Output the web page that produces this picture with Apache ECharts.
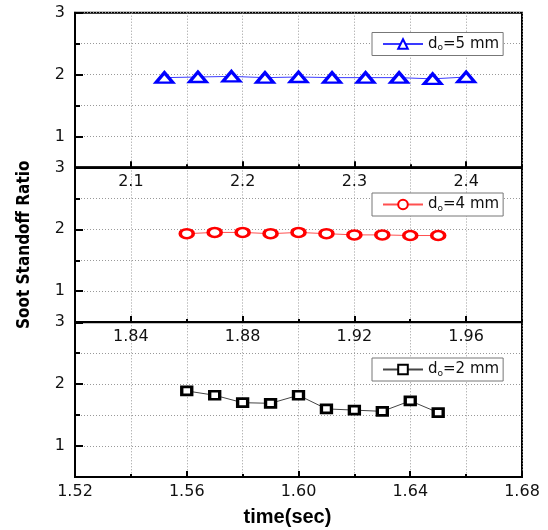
<!DOCTYPE html>
<html>
<head>
<meta charset="utf-8">
<script src="https://cdn.jsdelivr.net/npm/echarts@6/dist/echarts.min.js"></script>
<style>html,body{margin:0;padding:0;background:#fff}#c{width:548px;height:530px}</style>
</head>
<body>
<div id="c"></div>
<script>
// ---- data ----
const seriesNames = ['do=5 mm', 'do=4 mm', 'do=2 mm'];
const xTop = [2.13, 2.16, 2.19, 2.22, 2.25, 2.28, 2.31, 2.34, 2.37, 2.40];
const yTop = [1.95, 1.96, 1.97, 1.95, 1.96, 1.95, 1.95, 1.95, 1.93, 1.96];
const xMid = [1.86, 1.87, 1.88, 1.89, 1.90, 1.91, 1.92, 1.93, 1.94, 1.95];
const yMid = [1.93, 1.95, 1.95, 1.93, 1.95, 1.93, 1.91, 1.91, 1.90, 1.90];
const xBot = [1.56, 1.57, 1.58, 1.59, 1.60, 1.61, 1.62, 1.63, 1.64, 1.65];
const yBot = [1.89, 1.82, 1.70, 1.69, 1.82, 1.60, 1.58, 1.56, 1.73, 1.54];
const xTicksTop = [2.1, 2.2, 2.3, 2.4];
const xTicksMid = [1.84, 1.88, 1.92, 1.96];
const xTicksBot = [1.52, 1.56, 1.60, 1.64, 1.68];
const yTicks = [1, 2, 3];
const xTitle = 'time(sec)';
const yTitle = 'Soot Standoff Ratio';

// ---- layout / style ----
const panels = [
  {top: 12.7, xmin: 2.05, xmax: 2.45, step: 0.05, labels: xTicksTop, dec: 1, xs: xTop, ys: yTop,
   color: '#0000ff', line: '#3a3aff', symbol: 'triangle', size: [17, 10], legendTop: 32.5},
  {top: 167.5, xmin: 1.82, xmax: 1.98, step: 0.02, labels: xTicksMid, dec: 2, xs: xMid, ys: yMid,
   color: '#ff0000', line: '#ff5050', symbol: 'circle', size: [13, 9], legendTop: 193},
  {top: 322.3, xmin: 1.52, xmax: 1.68, step: 0.02, labels: xTicksBot, dec: 2, xs: xBot, ys: yBot,
   color: '#000000', line: '#444444', symbol: 'rect', size: [10, 8], legendTop: 358}
];
const H = 154.6;
const font = 'DejaVu Sans';
const grid = [], xAxis = [], yAxis = [], series = [], legend = [];
const dotted = {show: true, lineStyle: {color: '#999', width: 1, type: [1, 2]}};

panels.forEach((p, i) => {
  grid.push({left: 75, width: 447, top: p.top, height: H, show: true, borderColor: '#000', borderWidth: 2, backgroundColor: 'transparent', containLabel: false});
  xAxis.push({
    type: 'value', gridIndex: i, min: p.xmin, max: p.xmax, interval: p.step,
    axisLine: {show: true, onZero: false, lineStyle: {color: '#000', width: 2}},
    axisTick: {show: true, inside: true, length: 3, lineStyle: {color: '#000', width: 2}},
    axisLabel: {customValues: p.labels, margin: 7, color: '#111', fontFamily: font, fontSize: 16,
      formatter: v => v.toFixed(p.dec)},
    splitLine: dotted,
    name: i === 2 ? xTitle : '', nameLocation: 'middle', nameGap: 31,
    nameTextStyle: {fontFamily: 'Liberation Sans', fontWeight: 'bold', fontSize: 20, color: '#000', padding: [0, 22, 0, 0]}
  });
  yAxis.push({
    type: 'value', gridIndex: i, min: 0.5, max: 3, interval: 0.5,
    axisLine: {show: true, onZero: false, lineStyle: {color: '#000', width: 2}},
    axisTick: {show: true, inside: true, length: 5, lineStyle: {color: '#000', width: 2}},
    axisLabel: {customValues: yTicks, margin: 10, color: '#111', fontFamily: font, fontSize: 16,
      formatter: v => String(v)},
    splitLine: dotted,
    name: i === 1 ? yTitle : '', nameLocation: 'middle', nameGap: 42, nameRotate: 90,
    nameTextStyle: {fontFamily: '"Liberation Sans Narrow", "DejaVu Sans Condensed", "Liberation Sans", sans-serif',
      fontWeight: 'bold', fontSize: 17, color: '#000'}
  });
});
// overlay axes for longer major ticks
panels.forEach((p, i) => {
  xAxis.push({
    type: 'value', gridIndex: i, min: p.xmin, max: p.xmax, position: 'bottom',
    axisLine: {show: false}, axisLabel: {show: false}, splitLine: {show: false},
    axisTick: {show: true, inside: true, length: 6, customValues: p.labels, lineStyle: {color: '#000', width: 2}}
  });
  yAxis.push({
    type: 'value', gridIndex: i, min: 0.5, max: 3, position: 'left',
    axisLine: {show: false}, axisLabel: {show: false}, splitLine: {show: false},
    axisTick: {show: true, inside: true, length: 8, customValues: yTicks, lineStyle: {color: '#000', width: 2}}
  });
});
panels.forEach((p, i) => {
  series.push({
    name: seriesNames[i], type: 'line', xAxisIndex: i, yAxisIndex: i,
    data: p.xs.map((x, k) => [x, p.ys[k]]),
    symbol: p.symbol, symbolSize: p.size, showAllSymbol: true,
    color: p.color,
    itemStyle: {color: '#fff', borderColor: p.color, borderWidth: 3},
    lineStyle: {color: p.line, width: 1},
    emphasis: {disabled: true}, z: 5
  });
  legend.push({
    data: [seriesNames[i]], left: 372, top: p.legendTop, orient: 'horizontal',
    padding: [3, 4, 3, 10], itemWidth: 40, itemHeight: 12, itemGap: 5,
    borderColor: '#777', borderWidth: 1, backgroundColor: '#fff',
    selectedMode: false,
    formatter: n => '{t|d}{s|o}{t|' + n.slice(2) + '}',
    textStyle: {color: '#111', fontFamily: font, fontSize: 15,
      rich: {t: {fontFamily: font, fontSize: 15, lineHeight: 15, color: '#111'},
             s: {fontFamily: font, fontSize: 9, lineHeight: 9, padding: [8, 0, 0, 0], color: '#111'}}}
  });
});

const chart = echarts.init(document.getElementById('c'), null, {renderer: 'canvas'});
chart.setOption({animation: false, grid, xAxis, yAxis, series, legend});
</script>
</body>
</html>
